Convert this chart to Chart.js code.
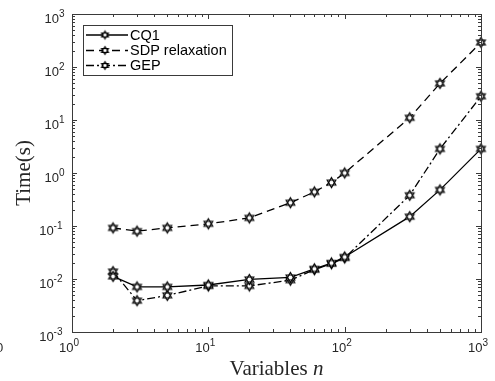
<!DOCTYPE html>
<html>
<head>
<meta charset="utf-8">
<script src="https://cdn.jsdelivr.net/npm/chart.js@4.4.1/dist/chart.umd.min.js"></script>
<style>
  html, body { margin: 0; padding: 0; background: #ffffff; }
  #wrap { width: 495px; height: 381px; }
</style>
</head>
<body>
<div id="wrap"><canvas id="c" width="495" height="381"></canvas></div>
<script>
// ---- data ----
const nValues = [2, 3, 5, 10, 20, 40, 60, 80, 100, 300, 500, 1000];
const cq1Times = [0.0112, 0.0071, 0.0071, 0.0077, 0.0098, 0.0107, 0.0155, 0.020, 0.026, 0.15, 0.48, 2.85];
const sdpTimes = [0.092, 0.080, 0.092, 0.11, 0.142, 0.275, 0.44, 0.66, 1.0, 11, 49, 290];
const gepTimes = [0.0138, 0.0039, 0.0049, 0.0074, 0.0074, 0.0095, 0.015, 0.0195, 0.025, 0.38, 2.85, 28];
const seriesNames = ['CQ1', 'SDP relaxation', 'GEP'];
const xTickExps = [0, 1, 2, 3];
const yTickExps = [-3, -2, -1, 0, 1, 2, 3];
const xTitle = 'Variables ';
const xTitleVar = 'n';
const yTitle = 'Time(s)';

const AX = '#3a3a3a';

function makeHexagram(r, lw) {
  const s = Math.ceil(2 * r + lw + 3);
  const c = document.createElement('canvas');
  c.width = s; c.height = s;
  const g = c.getContext('2d');
  const cx = s / 2, cy = s / 2;
  const tri = (start) => {
    g.beginPath();
    for (let k = 0; k < 3; k++) {
      const a = (start + k * 120) * Math.PI / 180;
      const px = cx + r * Math.cos(a), py = cy + r * Math.sin(a);
      if (k === 0) g.moveTo(px, py); else g.lineTo(px, py);
    }
    g.closePath();
  };
  g.fillStyle = '#ffffff';
  tri(-90); g.fill();
  tri(90); g.fill();
  g.strokeStyle = '#000000';
  g.lineWidth = lw;
  tri(-90); g.stroke();
  tri(90); g.stroke();
  return c;
}
const hexPlot = makeHexagram(5.0, 1.2);
const hexLegend = makeHexagram(4.0, 1.1);

const dashes = [[], [8, 5], [8, 3, 2, 3]];

const datasets = [cq1Times, sdpTimes, gepTimes].map((arr, i) => ({
  label: seriesNames[i],
  data: nValues.map((n, j) => ({ x: n, y: arr[j] })),
  borderColor: '#000000',
  backgroundColor: '#ffffff',
  borderWidth: 1.3,
  borderDash: dashes[i],
  pointStyle: hexPlot,
  pointRadius: 5,
  tension: 0,
  clip: false
}));

const framePlugin = {
  id: 'matlabFrame',
  afterDatasetsDraw(chart) {
    const ctx = chart.ctx;
    const a = chart.chartArea;
    const xs = chart.scales.x, ys = chart.scales.y;
    ctx.save();
    ctx.strokeStyle = AX;
    ctx.lineWidth = 1;
    ctx.setLineDash([]);
    // ticks (inward, all four sides)
    ctx.beginPath();
    for (let e = 0; e <= 3; e++) {
      for (let m = 1; m <= 9; m++) {
        const v = m * Math.pow(10, e);
        if (v > 1000) break;
        const px = Math.round(xs.getPixelForValue(v)) + 0.5;
        const len = m === 1 ? 5 : 3;
        ctx.moveTo(px, a.bottom); ctx.lineTo(px, a.bottom - len);
        ctx.moveTo(px, a.top); ctx.lineTo(px, a.top + len);
      }
    }
    for (let e = -3; e <= 3; e++) {
      for (let m = 1; m <= 9; m++) {
        const v = m * Math.pow(10, e);
        if (v > 1000) break;
        const py = Math.round(ys.getPixelForValue(v)) + 0.5;
        const len = m === 1 ? 5 : 3;
        ctx.moveTo(a.left, py); ctx.lineTo(a.left + len, py);
        ctx.moveTo(a.right, py); ctx.lineTo(a.right - len, py);
      }
    }
    ctx.stroke();
    ctx.strokeRect(Math.round(a.left) + 0.5, Math.round(a.top) + 0.5,
                   Math.round(a.right - a.left), Math.round(a.bottom - a.top));

    // tick labels with superscripts
    ctx.fillStyle = '#262626';
    ctx.textBaseline = 'alphabetic';
    const base = '13px "Liberation Sans", Arial, sans-serif';
    const sup = '10px "Liberation Sans", Arial, sans-serif';
    xTickExps.forEach(e => {
      const px = xs.getPixelForValue(Math.pow(10, e));
      ctx.font = base; ctx.textAlign = 'right';
      ctx.fillText('10', px + 1.5, a.bottom + 20);
      ctx.font = sup; ctx.textAlign = 'left';
      ctx.fillText(String(e), px + 1.5, a.bottom + 14);
    });
    yTickExps.forEach(e => {
      const py = ys.getPixelForValue(Math.pow(10, e));
      const s = e < 0 ? '-' + Math.abs(e) : String(e);
      ctx.font = sup;
      const sw = ctx.measureText(s).width;
      const rightEdge = e < 0 ? 62.5 : 64.5;
      const supX = rightEdge - sw;
      ctx.textAlign = 'left';
      ctx.fillText(s, supX, py + 2.5);
      ctx.font = base; ctx.textAlign = 'right';
      ctx.fillText('10', supX, py + 8.5);
    });

    // axis titles
    ctx.fillStyle = '#262626';
    ctx.font = '21px "Liberation Serif", "Times New Roman", serif';
    const wMain = ctx.measureText(xTitle).width;
    ctx.font = 'italic 21px "Liberation Serif", "Times New Roman", serif';
    const wVar = ctx.measureText(xTitleVar).width;
    const cx = (a.left + a.right) / 2;
    let sx = cx - (wMain + wVar) / 2;
    ctx.textAlign = 'left';
    ctx.font = '21px "Liberation Serif", "Times New Roman", serif';
    ctx.fillText(xTitle, sx, 375);
    ctx.font = 'italic 21px "Liberation Serif", "Times New Roman", serif';
    ctx.fillText(xTitleVar, sx + wMain, 375);

    ctx.save();
    ctx.translate(30, (a.top + a.bottom) / 2);
    ctx.rotate(-Math.PI / 2);
    ctx.textAlign = 'center';
    ctx.font = '21px "Liberation Serif", "Times New Roman", serif';
    ctx.fillText(yTitle, 0, 0);
    ctx.restore();

    // cropped fragment of the neighbouring figure at the left edge
    ctx.font = '13px "Liberation Sans", Arial, sans-serif';
    ctx.textAlign = 'left';
    ctx.fillStyle = '#262626';
    ctx.fillText('0', -4, 352);

    // legend
    const lx0 = 83.5, ly0 = 25.5, lw = 149, lh = 50;
    ctx.fillStyle = '#ffffff';
    ctx.fillRect(lx0, ly0, lw, lh);
    ctx.strokeStyle = AX;
    ctx.lineWidth = 1;
    ctx.strokeRect(lx0, ly0, lw, lh);
    const rows = [35, 50.5, 65.5];
    chart.data.datasets.forEach((ds, i) => {
      const y = rows[i];
      ctx.strokeStyle = '#000000';
      ctx.lineWidth = 1.3;
      ctx.setLineDash(ds.borderDash || []);
      ctx.beginPath();
      ctx.moveTo(86, y); ctx.lineTo(128, y);
      ctx.stroke();
      ctx.setLineDash([]);
      ctx.drawImage(hexLegend, 105 - hexLegend.width / 2, y - hexLegend.height / 2);
      ctx.fillStyle = '#000000';
      ctx.font = '14.5px "Liberation Sans", Arial, sans-serif';
      ctx.textAlign = 'left';
      ctx.textBaseline = 'middle';
      ctx.fillText(ds.label, 130, y + 0.5);
    });
    ctx.restore();
  }
};

new Chart(document.getElementById('c'), {
  type: 'line',
  data: { datasets },
  options: {
    responsive: false,
    animation: false,
    parsing: true,
    layout: { padding: { left: 72, right: 14, top: 14, bottom: 49 } },
    plugins: { legend: { display: false }, tooltip: { enabled: false } },
    scales: {
      x: { type: 'logarithmic', min: 1, max: 1000, display: false },
      y: { type: 'logarithmic', min: 0.001, max: 1000, display: false }
    }
  },
  plugins: [framePlugin]
});
</script>
</body>
</html>
